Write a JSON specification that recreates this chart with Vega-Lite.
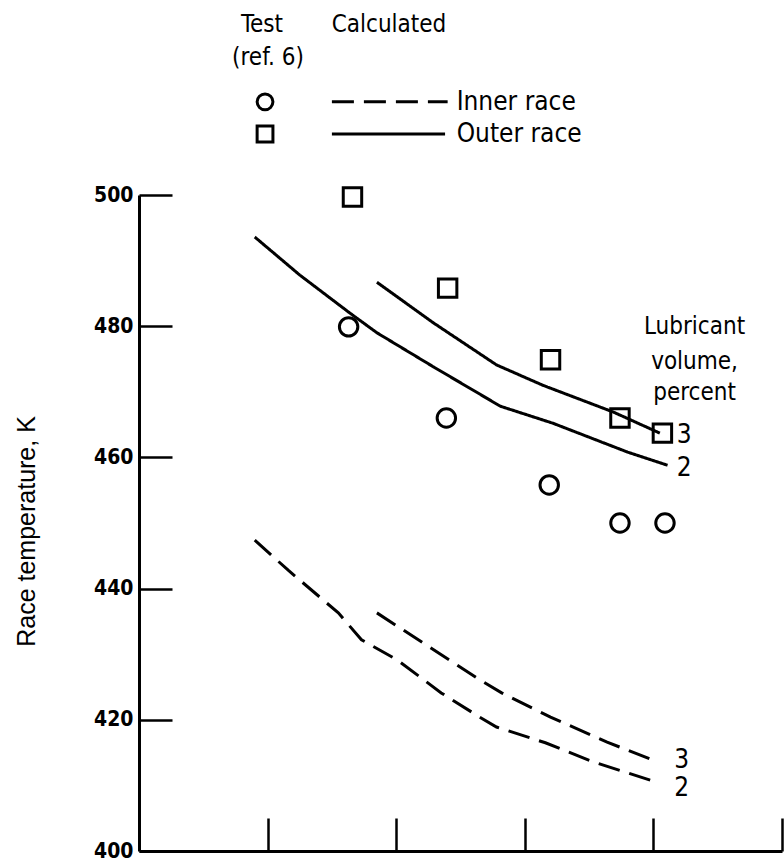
{
  "$schema": "https://vega.github.io/schema/vega-lite/v6.json",
  "width": 643,
  "height": 656,
  "autosize": "none",
  "padding": {"left": 139, "top": 195, "right": 2, "bottom": 14},
  "background": "white",
  "config": {
    "view": {"stroke": null},
    "font": "DejaVu Sans Condensed",
    "axis": {"domainColor": "black", "domainWidth": 3, "tickColor": "black", "tickWidth": 2.5, "grid": false, "labelColor": "black", "titleColor": "black"}
  },
  "datasets": {
    "lines": [
      {"series": "outer2", "race": "Outer race", "x": 0.90, "y": 493.6},
      {"series": "outer2", "race": "Outer race", "x": 1.25, "y": 487.8},
      {"series": "outer2", "race": "Outer race", "x": 1.64, "y": 482.0},
      {"series": "outer2", "race": "Outer race", "x": 1.85, "y": 479.0},
      {"series": "outer2", "race": "Outer race", "x": 2.29, "y": 473.8},
      {"series": "outer2", "race": "Outer race", "x": 2.81, "y": 467.8},
      {"series": "outer2", "race": "Outer race", "x": 3.22, "y": 465.2},
      {"series": "outer2", "race": "Outer race", "x": 3.80, "y": 460.8},
      {"series": "outer2", "race": "Outer race", "x": 4.11, "y": 458.8},
      {"series": "outer3", "race": "Outer race", "x": 1.85, "y": 486.7},
      {"series": "outer3", "race": "Outer race", "x": 2.29, "y": 480.5},
      {"series": "outer3", "race": "Outer race", "x": 2.78, "y": 474.1},
      {"series": "outer3", "race": "Outer race", "x": 3.14, "y": 471.0},
      {"series": "outer3", "race": "Outer race", "x": 3.69, "y": 466.9},
      {"series": "outer3", "race": "Outer race", "x": 4.05, "y": 463.7},
      {"series": "inner2", "race": "Inner race", "x": 0.90, "y": 447.4},
      {"series": "inner2", "race": "Inner race", "x": 1.16, "y": 442.8},
      {"series": "inner2", "race": "Inner race", "x": 1.55, "y": 436.3},
      {"series": "inner2", "race": "Inner race", "x": 1.73, "y": 432.2},
      {"series": "inner2", "race": "Inner race", "x": 2.01, "y": 429.1},
      {"series": "inner2", "race": "Inner race", "x": 2.35, "y": 424.1},
      {"series": "inner2", "race": "Inner race", "x": 2.65, "y": 420.4},
      {"series": "inner2", "race": "Inner race", "x": 2.78, "y": 418.9},
      {"series": "inner2", "race": "Inner race", "x": 3.16, "y": 416.5},
      {"series": "inner2", "race": "Inner race", "x": 3.53, "y": 413.6},
      {"series": "inner2", "race": "Inner race", "x": 4.04, "y": 410.4},
      {"series": "inner3", "race": "Inner race", "x": 1.85, "y": 436.3},
      {"series": "inner3", "race": "Inner race", "x": 2.21, "y": 431.7},
      {"series": "inner3", "race": "Inner race", "x": 2.65, "y": 426.1},
      {"series": "inner3", "race": "Inner race", "x": 2.82, "y": 424.1},
      {"series": "inner3", "race": "Inner race", "x": 3.20, "y": 420.4},
      {"series": "inner3", "race": "Inner race", "x": 3.64, "y": 416.6},
      {"series": "inner3", "race": "Inner race", "x": 3.99, "y": 413.9}
    ],
    "points": [
      {"race": "Outer race", "x": 1.66, "y": 499.7},
      {"race": "Outer race", "x": 2.40, "y": 485.8},
      {"race": "Outer race", "x": 3.20, "y": 474.9},
      {"race": "Outer race", "x": 3.74, "y": 466.0},
      {"race": "Outer race", "x": 4.07, "y": 463.7},
      {"race": "Inner race", "x": 1.63, "y": 479.9},
      {"race": "Inner race", "x": 2.39, "y": 466.0},
      {"race": "Inner race", "x": 3.19, "y": 455.8},
      {"race": "Inner race", "x": 3.74, "y": 450.0},
      {"race": "Inner race", "x": 4.09, "y": 450.0}
    ],
    "curveLabels": [
      {"label": "3", "x": 4.24, "y": 463.4},
      {"label": "2", "x": 4.24, "y": 458.4},
      {"label": "3", "x": 4.22, "y": 413.9},
      {"label": "2", "x": 4.22, "y": 409.6}
    ],
    "notes": [
      {"label": "Lubricant", "x": 4.32, "y": 479.9},
      {"label": "volume,", "x": 4.32, "y": 474.6},
      {"label": "percent", "x": 4.32, "y": 469.8},
      {"label": "Test", "x": 0.956, "y": 525.9},
      {"label": "(ref. 6)", "x": 1.003, "y": 520.9},
      {"label": "Calculated", "x": 1.944, "y": 525.9}
    ],
    "legendItems": [
      {"race": "Inner race", "sx": 0.98, "x1": 1.50, "x2": 2.40, "tx": 2.47, "y": 514.2},
      {"race": "Outer race", "sx": 0.98, "x1": 1.50, "x2": 2.38, "tx": 2.47, "y": 509.3}
    ]
  },
  "layer": [
    {
      "data": {"name": "lines"},
      "mark": {"type": "line", "color": "black", "strokeWidth": 3},
      "encoding": {
        "x": {"field": "x", "type": "quantitative", "scale": {"domain": [0, 5], "nice": false, "zero": false},
          "axis": {"values": [1, 2, 3, 4, 5], "labels": false, "title": null, "tickSize": -33, "domain": true}},
        "y": {"field": "y", "type": "quantitative", "scale": {"domain": [400, 500], "nice": false, "zero": false},
          "axis": {"values": [400, 420, 440, 460, 480, 500], "tickSize": -33, "labelPadding": 39, "labelFontSize": 21, "labelFontWeight": "bold", "labelFont": "DejaVu Sans Condensed",
            "title": "Race temperature, K", "titleFontSize": 25, "titleFontWeight": "normal", "titlePadding": 54, "titleFont": "Liberation Sans", "titleY": 336}},
        "detail": {"field": "series"},
        "strokeDash": {"field": "race", "type": "nominal", "scale": {"domain": ["Inner race", "Outer race"], "range": [[22, 10], [1, 0]]}, "legend": null}
      }
    },
    {
      "data": {"name": "points"},
      "mark": {"type": "point", "filled": false, "color": "black", "strokeWidth": 3, "size": 340, "opacity": 1},
      "encoding": {
        "x": {"field": "x", "type": "quantitative"},
        "y": {"field": "y", "type": "quantitative"},
        "shape": {"field": "race", "type": "nominal", "scale": {"domain": ["Inner race", "Outer race"], "range": ["circle", "square"]}, "legend": null}
      }
    },
    {
      "data": {"name": "curveLabels"},
      "mark": {"type": "text", "fontSize": 26, "color": "black", "align": "center", "baseline": "middle"},
      "encoding": {
        "x": {"field": "x", "type": "quantitative"},
        "y": {"field": "y", "type": "quantitative"},
        "text": {"field": "label"}
      }
    },
    {
      "data": {"name": "notes"},
      "mark": {"type": "text", "fontSize": 24, "color": "black", "align": "center", "baseline": "middle"},
      "encoding": {
        "x": {"field": "x", "type": "quantitative"},
        "y": {"field": "y", "type": "quantitative"},
        "text": {"field": "label"}
      }
    },
    {
      "data": {"name": "legendItems"},
      "mark": {"type": "point", "filled": false, "color": "black", "strokeWidth": 3, "size": 250, "opacity": 1},
      "encoding": {
        "x": {"field": "sx", "type": "quantitative"},
        "y": {"field": "y", "type": "quantitative"},
        "shape": {"field": "race", "type": "nominal", "legend": null}
      }
    },
    {
      "data": {"name": "legendItems"},
      "mark": {"type": "rule", "color": "black", "strokeWidth": 3},
      "encoding": {
        "x": {"field": "x1", "type": "quantitative"},
        "x2": {"field": "x2"},
        "y": {"field": "y", "type": "quantitative"},
        "strokeDash": {"field": "race", "type": "nominal", "legend": null}
      }
    },
    {
      "data": {"name": "legendItems"},
      "mark": {"type": "text", "fontSize": 26, "color": "black", "align": "left", "baseline": "middle"},
      "encoding": {
        "x": {"field": "tx", "type": "quantitative"},
        "y": {"field": "y", "type": "quantitative"},
        "text": {"field": "race"}
      }
    }
  ]
}
